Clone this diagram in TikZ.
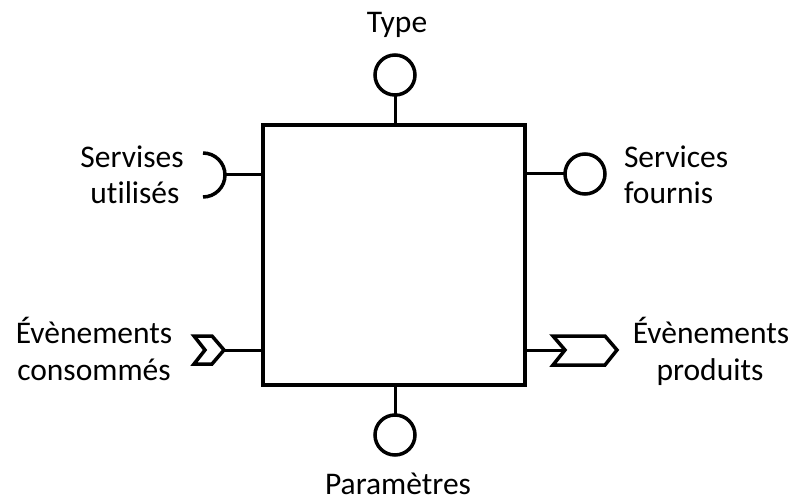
\documentclass[tikz,border=0pt]{standalone}
\usepackage{fontspec}
\setmainfont{Carlito}[Ligatures=NoCommon]
\begin{document}
\begin{tikzpicture}[x=1pt,y=-1pt,
  every node/.style={inner sep=0pt,outer sep=0pt},
  body/.style={draw,rectangle,line width=4pt,minimum width=262pt,minimum height=260pt},
  port/.style={draw,circle,line width=3.5pt,minimum size=40pt},
  stem/.style={line width=3pt},
  symb/.style={line width=3.5pt,line join=miter},
  lbl/.style={font=\fontsize{31.5}{36}\selectfont,anchor=base},
  lblw/.style={lbl,anchor=base west}]
\useasboundingbox (0,0) rectangle (793,497);

% component body
\node[body] (body) at (394,255) {};

% provided type (top) and parameters (bottom)
\node[port] (type) at (395,75) {};
\draw[stem] (type |- body.north) -- (type);
\node[port] (params) at (395,435) {};
\draw[stem] (params |- body.south) -- (params);

% provided services (right)
\node[port] (provided) at (585,174) {};
\draw[stem] (body.east |- provided) -- (provided);

% used services (left): half-circle socket
\coordinate (usedTip) at (225,175);
\draw[stem] (body.west |- usedTip) -- (usedTip);
\draw[symb] (203,153) arc[start angle=90,end angle=-90,radius=22pt];

% consumed events (left chevron)
\coordinate (consTip) at (224,350);
\draw[stem] (body.west |- consTip) -- (consTip);
\draw[symb] (consTip) -- (212,336) -- (194,336) -- (205,350) -- (194,364) -- (212,364) -- cycle;

% produced events (right chevron)
\coordinate (prodNotch) at (565,350);
\draw[stem] (body.east |- prodNotch) -- (prodNotch);
\draw[symb] (prodNotch) -- (553,336) -- (605,336) -- (617,350) -- (605,365) -- (553,365) -- cycle;

% labels
\node[lbl] (tType) at (397,33) {Type};
\node[lbl] (tParams) at (398,494) {Paramètres};
\node[lbl] (tUsedA) at (132,168) {Servises};
\node[lbl] (tUsedB) at (135,204) {utilisés};
\node[lblw] (tProvA) at (624,168) {Services};
\node[lblw] (tProvB) at (624,204) {fournis};
\node[lbl] (tConsA) at (94,343) {Évènements};
\node[lbl] (tConsB) at (94,380) {consommés};
\node[lbl] (tProdA) at (711,343) {Évènements};
\node[lbl] (tProdB) at (710,380) {produits};
\end{tikzpicture}
\end{document}
